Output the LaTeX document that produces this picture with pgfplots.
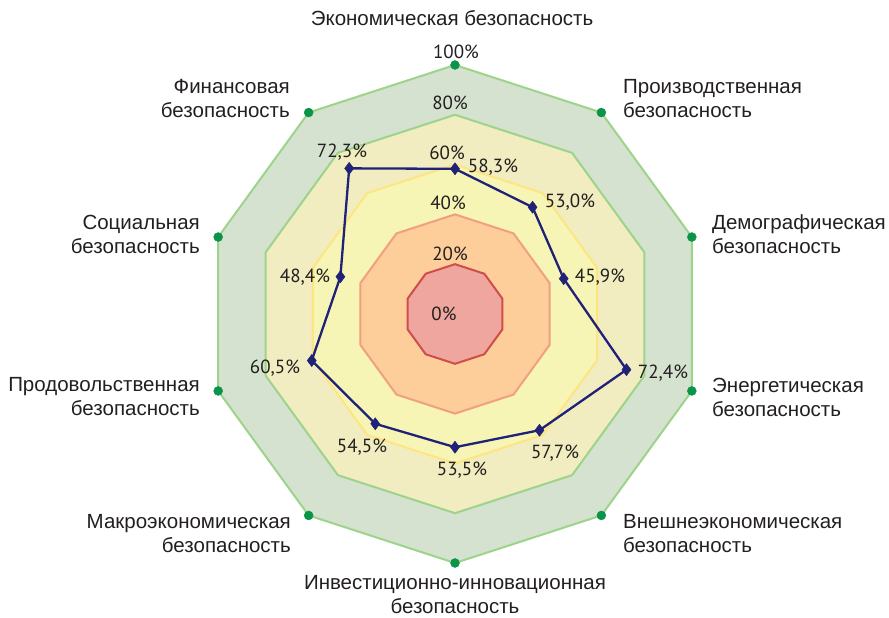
\documentclass[border=0pt]{standalone}
\usepackage{fontspec}
\setmainfont{Liberation Sans}
\newfontfamily\numfont{PT Sans}
\usepackage{pgfplots}
\pgfplotsset{compat=1.18}
\usepgfplotslibrary{polar}
\definecolor{gfill}{HTML}{D5E2CF}
\definecolor{gline}{HTML}{9DD38A}
\definecolor{bfill}{HTML}{F1EDC0}
\definecolor{yfill}{HTML}{F7F5B5}
\definecolor{yline}{HTML}{FDE582}
\definecolor{ofill}{HTML}{FDCD9A}
\definecolor{oline}{HTML}{F0A080}
\definecolor{rfill}{HTML}{EFA69E}
\definecolor{rline}{HTML}{CD4E4B}
\definecolor{navy}{HTML}{1F2277}
\definecolor{dotg}{HTML}{0A9447}
\definecolor{txt}{HTML}{231F20}
\begin{document}
\begin{tikzpicture}[x=1bp,y=1bp]
\useasboundingbox (0,0) rectangle (889,618);
\begin{polaraxis}[
  width=498bp, height=498bp, scale only axis,
  at={(455bp,304bp)}, anchor=center,
  hide axis, ymin=0, ymax=100, clip=false,
]
\addplot[fill=gfill, draw=gline, line width=2bp, mark=none] coordinates {(90,100) (54,100) (18,100) (-18,100) (-54,100) (-90,100) (-126,100) (-162,100) (162,100) (126,100)} -- cycle;
\addplot[fill=bfill, draw=gline, line width=2bp, mark=none] coordinates {(90,80) (54,80) (18,80) (-18,80) (-54,80) (-90,80) (-126,80) (-162,80) (162,80) (126,80)} -- cycle;
\addplot[fill=yfill, draw=yline, line width=2bp, mark=none] coordinates {(90,60) (54,60) (18,60) (-18,60) (-54,60) (-90,60) (-126,60) (-162,60) (162,60) (126,60)} -- cycle;
\addplot[fill=ofill, draw=oline, line width=2bp, mark=none] coordinates {(90,40) (54,40) (18,40) (-18,40) (-54,40) (-90,40) (-126,40) (-162,40) (162,40) (126,40)} -- cycle;
\addplot[fill=rfill, draw=rline, line width=2bp, mark=none] coordinates {(90,20) (54,20) (18,20) (-18,20) (-54,20) (-90,20) (-126,20) (-162,20) (162,20) (126,20)} -- cycle;
\addplot[only marks, mark=*, mark size=4.5bp, dotg, mark options={draw=none, fill=dotg}] coordinates {(90,100) (54,100) (18,100) (-18,100) (-54,100) (-90,100) (-126,100) (-162,100) (162,100) (126,100)};
\addplot[navy, line width=2.3bp, mark=diamond*, mark size=6bp, mark options={fill=navy, draw=navy, line width=0.5bp}] coordinates {(90,58.3) (54,53.0) (18,45.9) (-18,72.4) (-54,57.7) (-90,53.5) (-126,54.5) (-162,60.5) (162,48.4) (126,72.3)} -- cycle;
\end{polaraxis}
\begin{scope}[every node/.style={inner sep=0pt, text=txt, font=\fontsize{20.5bp}{24bp}\selectfont}]
\node[anchor=center] at (452,600) {Экономическая безопасность};
\node[anchor=west, align=left] at (623,519) {Производственная\\безопасность};
\node[anchor=west, align=left] at (712,384) {Демографическая\\безопасность};
\node[anchor=west, align=left] at (712,221) {Энергетическая\\безопасность};
\node[anchor=west, align=left] at (623,84) {Внешнеэкономическая\\безопасность};
\node[anchor=center, align=center] at (455,23) {Инвестиционно-инновационная\\безопасность};
\node[anchor=east, align=right] at (291,84) {Макроэкономическая\\безопасность};
\node[anchor=east, align=right] at (200,221) {Продовольственная\\безопасность};
\node[anchor=east, align=right] at (200,384) {Социальная\\безопасность};
\node[anchor=east, align=right] at (290,519) {Финансовая\\безопасность};
\end{scope}
\begin{scope}[every node/.style={inner sep=0pt, text=txt, font=\numfont\fontsize{19bp}{22bp}\selectfont}]
\node at (456,566) {100\%};
\node at (450,515) {80\%};
\node at (447,465) {60\%};
\node at (448,415) {40\%};
\node at (450,364) {20\%};
\node at (444,304) {0\%};
\node at (493,451) {58,3\%};
\node at (570,416) {53,0\%};
\node at (600,341) {45,9\%};
\node at (663,245) {72,4\%};
\node at (555,165) {57,7\%};
\node at (462,148) {53,5\%};
\node at (362,171) {54,5\%};
\node at (275,250) {60,5\%};
\node at (305,341) {48,4\%};
\node at (342,466) {72,3\%};
\end{scope}
\end{tikzpicture}
\end{document}
